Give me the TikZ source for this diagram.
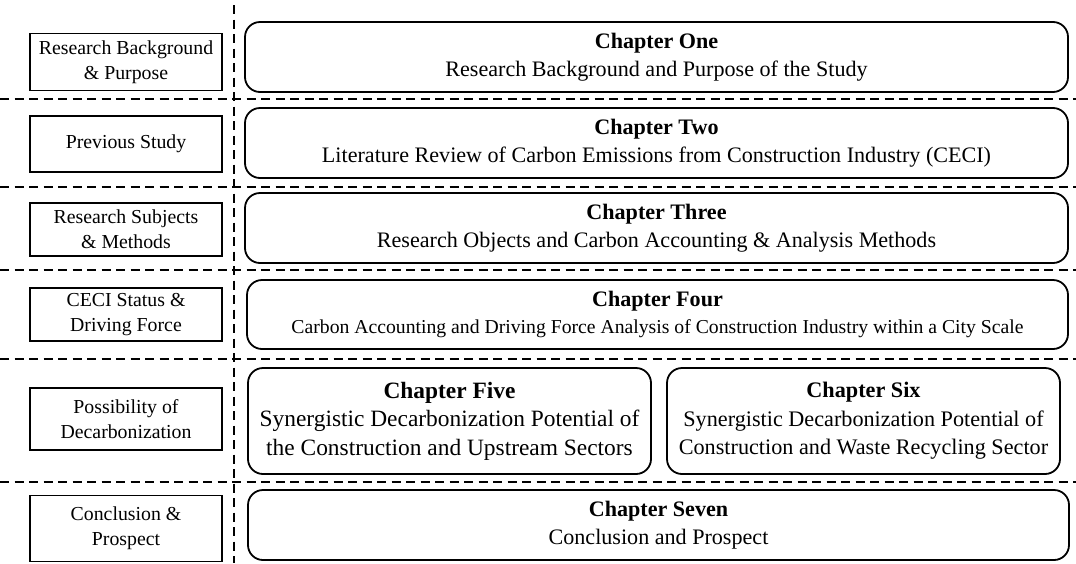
\documentclass[tikz,border=0pt]{standalone}
\usepackage{fontspec}
\setmainfont{Liberation Serif}
\begin{document}
\begin{tikzpicture}[x=1pt,y=-1pt,
  topic/.style={draw, line width=1.2pt, rectangle, inner sep=0pt, align=center,
    font=\fontsize{19.8}{25}\selectfont},
  chapter/.style={draw, line width=1.8pt, rounded corners=15pt, inner sep=0pt, align=center,
    font=\fontsize{22.1}{27.5}\selectfont},
  divider/.style={line width=1.3pt, dash pattern=on 9pt off 5.5pt}]
\useasboundingbox (0,0) rectangle (1076,563);

% section dividers
\draw[divider] (0,99) coordinate (d1l) -- (1076,99) coordinate (d1r);
\draw[divider] (0,187) coordinate (d2l) -- (1076,187) coordinate (d2r);
\draw[divider] (0,270) coordinate (d3l) -- (1076,270) coordinate (d3r);
\draw[divider] (0,359) coordinate (d4l) -- (1076,359) coordinate (d4r);
\draw[divider] (0,482) coordinate (d5l) -- (1076,482) coordinate (d5r);
\draw[divider] (234,5) coordinate (vt) -- (234,563) coordinate (vb);

% topic labels
\node[topic, minimum width=192pt, minimum height=57pt] (t1) at (126,62) {Research Background\\\& Purpose};
\node[topic, minimum width=192pt, minimum height=56pt] (t2) at (126,144) {Previous Study};
\node[topic, minimum width=192pt, minimum height=53pt] (t3) at (126,229.5) {Research Subjects\\\& Methods};
\node[topic, minimum width=192pt, minimum height=53pt] (t4) at (126,314.5) {CECI Status \&\\Driving Force};
\node[topic, minimum width=192pt, minimum height=62pt] (t5) at (126,419) {Possibility of\\Decarbonization};
\node[topic, minimum width=192pt, minimum height=66pt] (t6) at (126,528.5) {Conclusion \&\\Prospect};

% chapters
\node[chapter, minimum width=823pt, minimum height=70pt] (c1) at (656.5,57)
  {\textbf{Chapter One}\\Research Background and Purpose of the Study};
\node[chapter, minimum width=823pt, minimum height=70pt] (c2) at (656.5,143)
  {\textbf{Chapter Two}\\Literature Review of Carbon Emissions from Construction Industry (CECI)};
\node[chapter, minimum width=823pt, minimum height=70pt] (c3) at (656.5,228)
  {\textbf{Chapter Three}\\Research Objects and Carbon Accounting \& Analysis Methods};
\node[chapter, minimum width=821pt, minimum height=69pt] (c4) at (657.5,314.5)
  {\textbf{Chapter Four}\\{\fontsize{19.7}{27}\selectfont Carbon Accounting and Driving Force Analysis of Construction Industry within a City Scale}};
\node[chapter, minimum width=403pt, minimum height=106pt, font=\fontsize{23.4}{28.5}\selectfont] (c5) at (449.5,421)
  {\textbf{Chapter Five}\\Synergistic Decarbonization Potential of\\the Construction and Upstream Sectors};
\node[chapter, minimum width=393pt, minimum height=106pt, font=\fontsize{22.2}{28.5}\selectfont] (c6) at (863.5,421)
  {\textbf{Chapter Six}\\Synergistic Decarbonization Potential of\\Construction and Waste Recycling Sector};
\node[chapter, minimum width=821pt, minimum height=70pt] (c7) at (658.5,525)
  {\textbf{Chapter Seven}\\Conclusion and Prospect};
\end{tikzpicture}
\end{document}
